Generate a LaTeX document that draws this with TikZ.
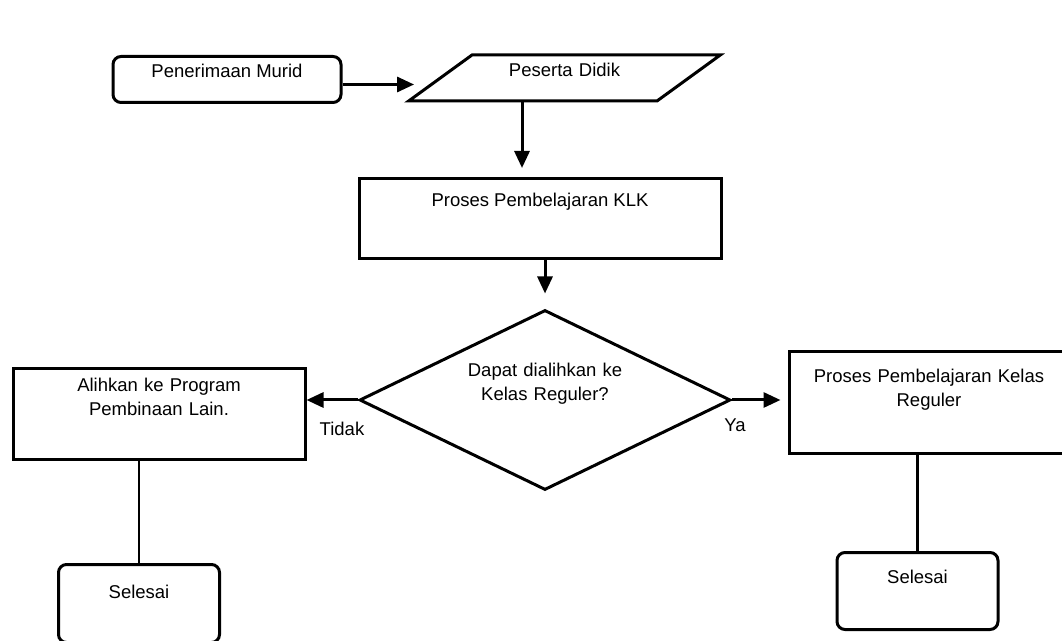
\documentclass[tikz,border=0pt]{standalone}
\usepackage{fontspec}
\setmainfont{Liberation Sans}
\usetikzlibrary{arrows.meta,shapes.geometric}

\begin{document}
\begin{tikzpicture}[x=1pt,y=1pt,font=\fontsize{18.5}{24}\selectfont,
        kotak/.style={draw,line width=3pt,inner sep=0pt,anchor=north,align=center},
        kotakbulat/.style={kotak,rounded corners=8pt},
        jajar/.style={kotak,trapezium,trapezium left angle=36,trapezium right angle=144,anchor=center},
        belah/.style={draw,line width=3pt,diamond,aspect=2,inner sep=0pt,align=center},
        panah/.style={line width=3pt,-{Triangle[length=17pt,width=15pt]}},
        garis/.style={line width=2.8pt}]
        \clip (0, 0) rectangle (1062, 640);
        \node (murid) at (227, 585) [kotakbulat,minimum width=228pt,text height=21pt,text depth=25pt] {Penerimaan Murid};
        \node (peserta) at (564.5, 562) [jajar,text width=185pt,text height=22pt,text depth=24pt] {Peserta Didik};
        \node (klk) at (540, 463) [kotak,minimum width=362pt,text height=28pt,text depth=52pt] {Proses Pembelajaran KLK};
        \node (keputusan) at (545, 240) [belah,text width=160pt,minimum width=371pt,minimum height=180pt,text height=14pt,text depth=60pt] {Dapat dialihkan ke\\Kelas Reguler?};
        \node (alihkan) at (159, 273) [kotak,text width=292pt,text height=23pt,text depth=68pt] {Alihkan ke Program\\Pembinaan Lain.};
        \node (reguler) at (929, 290) [kotak,text width=280pt,text height=31pt,text depth=71pt] {Proses Pembelajaran Kelas\\Reguler};
        \node (selesaiA) at (139, 77) [kotakbulat,minimum width=161pt,text height=34pt,text depth=44pt] {Selesai};
        \node (selesaiB) at (917.5, 89) [kotakbulat,minimum width=161pt,text height=31pt,text depth=46pt] {Selesai};
        \node (tidak) at (342, 211) {Tidak};
        \node (ya) at (735, 215) {Ya};
        \draw[panah] ([yshift=-5pt]murid.east) -- ([yshift=-5pt,xshift=10pt]murid.east -| peserta.bottom left corner);
        \draw[panah,shorten >=9pt] ([xshift=-42.5pt]peserta.center |- peserta.bottom side) -- ([xshift=-42.5pt]peserta.center |- klk.north);
        \draw[panah,shorten >=15pt] (keputusan.north |- klk.south) -- (keputusan.north);
        \draw[panah] (keputusan.west) -- (keputusan.west -| alihkan.east);
        \draw[panah,shorten >=7pt] (keputusan.east) -- (keputusan.east -| reguler.west);
        \draw[garis] (selesaiA.north |- alihkan.south) -- (selesaiA.north);
        \draw[garis] (selesaiB.north |- reguler.south) -- (selesaiB.north);
\end{tikzpicture}
\end{document}
